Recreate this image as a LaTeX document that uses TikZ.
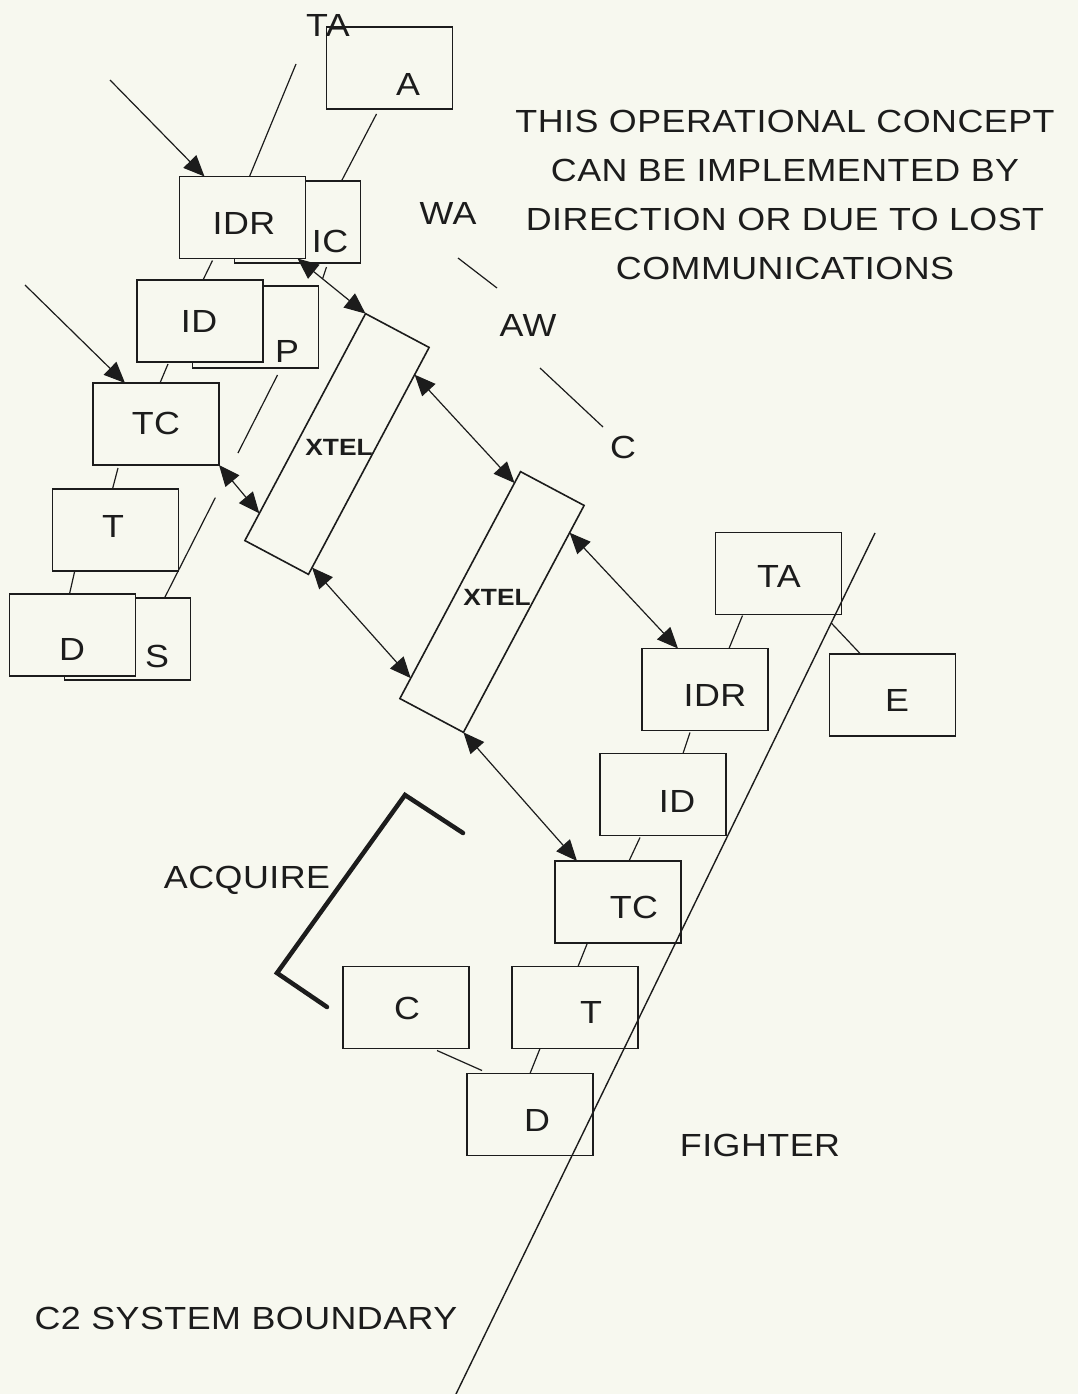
\documentclass[tikz,border=0pt]{standalone}
\usepackage{fontspec}
\newfontfamily\plotfont{Liberation Sans}[FakeStretch=1.12, LetterSpace=1.5]
\newfontfamily\xtelfont{Liberation Sans}[FakeStretch=1.12]
\usetikzlibrary{arrows.meta,calc}
\definecolor{paper}{RGB}{247,248,239}
\definecolor{ink}{RGB}{28,28,28}
\begin{document}
\begin{tikzpicture}[x=1pt,y=-1pt,
  box/.style={draw=ink, fill=paper, line width=1.8pt, minimum width=126pt, minimum height=82pt, inner sep=0pt, outer sep=0pt},
  lbl/.style={text=ink, font=\plotfont\fontsize{32}{38}\selectfont, inner sep=0pt, text depth=0pt},
  xlbl/.style={text=ink, font=\xtelfont\bfseries\fontsize{23.5}{28}\selectfont, inner sep=0pt, text depth=0pt},
  link/.style={draw=ink, line width=1.2pt},
  bound/.style={draw=ink, line width=1.4pt},
  sgl/.style={link, -{Triangle[length=21pt,width=18pt]}},
  dbl/.style={link, {Triangle[length=21pt,width=18pt]}-{Triangle[length=21pt,width=18pt]}},
  xtel/.style={draw=ink, fill=paper, line width=1.6pt, minimum width=257pt, minimum height=72pt, rotate=62, inner sep=0pt, outer sep=0pt},
  acq/.style={draw=ink, line width=4.5pt, line cap=round, line join=miter},
]
\fill[paper] (0,0) rectangle (1078,1394);
\useasboundingbox (0,0) rectangle (1078,1394);

% ---------- left group boxes ----------
\node[box] (boxa) at (389.5,68) {};
\node[box] (ic) at (297.5,222) {};
\node[box] (idr) at (242.5,217.5) {};
\node[box] (p) at (255.5,327) {};
\node[box] (id) at (200,321) {};
\node[box] (tc) at (156,424) {};
\node[box] (t) at (115.5,530) {};
\node[box] (s) at (127.5,639) {};
\node[box] (d) at (72.5,635) {};

% ---------- right group boxes ----------
\node[box] (ta2) at (778.5,573.5) {};
\node[box] (idr2) at (705,689.5) {};
\node[box] (e) at (892.5,695) {};
\node[box] (id2) at (663,794.5) {};
\node[box] (tc2) at (618,902) {};
\node[box] (t2) at (575,1007.5) {};
\node[box] (cbox) at (406,1007.5) {};
\node[box] (d2) at (530,1114.5) {};

% ---------- XTEL boxes ----------
\node[xtel] (x1) at (337,444) {};
\node[xtel] (x2) at (492,602) {};

% ---------- labels ----------
\node[lbl] (lta) at (328,25) {TA};
\node[lbl] (la) at (408,84) {A};
\node[lbl] (lidr) at (244,223) {IDR};
\node[lbl] (lic) at (330,241) {IC};
\node[lbl] (lid) at (199,321) {ID};
\node[lbl] (lp) at (287,351) {P};
\node[lbl] (ltc) at (156,423) {TC};
\node[lbl] (lt) at (113,526) {T};
\node[lbl] (ld) at (72,649) {D};
\node[lbl] (ls) at (157,656) {S};
\node[lbl] (lwa) at (448,213) {WA};
\node[lbl] (law) at (528,325) {AW};
\node[lbl] (lc1) at (623,447) {C};
\node[xlbl] (lx1) at (339,447) {XTEL};
\node[xlbl] (lx2) at (497,597) {XTEL};
\node[lbl] (lta2) at (779,576) {TA};
\node[lbl] (lidr2) at (715,695) {IDR};
\node[lbl] (le) at (897,700) {E};
\node[lbl] (lid2) at (677,801) {ID};
\node[lbl] (ltc2) at (634,907) {TC};
\node[lbl] (lt2) at (591,1012) {T};
\node[lbl] (lc2) at (407,1008) {C};
\node[lbl] (ld2) at (537,1120) {D};
\node[lbl] (lacq) at (247,877) {ACQUIRE};
\node[lbl] (lfig) at (760,1145) {FIGHTER};
\node[lbl] (lc2sb) at (246,1318) {C2 SYSTEM BOUNDARY};
\node[lbl, align=center, font=\plotfont\fontsize{32}{49}\selectfont] (note) at (785,195)
  {THIS OPERATIONAL CONCEPT\\CAN BE IMPLEMENTED BY\\DIRECTION OR DUE TO LOST\\COMMUNICATIONS};

% ---------- plain links (left) ----------
\coordinate (tatail) at (296,64);
\draw[link] (tatail) -- ($(idr.north west)+(70,0)$);
\draw[link] ($(boxa.south west)+(50,5)$) -- ($(ic.north west)+(107,0)$);
\draw[link] ($(idr.south west)+(33,2)$) -- ($(id.north west)+(66,0)$);
\draw[link] ($(ic.south west)+(92,4)$) -- ($(ic.south west)+(88,16)$);
\draw[link] ($(id.south west)+(31,2)$) -- ($(tc.north west)+(67,0)$);
\coordinate (ps1) at ($(p.south west)+(85,7)$);
\coordinate (ps2) at ($(s.north west)+(100,0)$);
\draw[link] (ps1) -- ($(ps1)!0.35!(ps2)$);
\draw[link] ($(ps1)!0.55!(ps2)$) -- (ps2);
\draw[link] ($(tc.south west)+(25,3)$) -- ($(t.north west)+(60,0)$);
\draw[link] ($(t.south west)+(22,1)$) -- ($(d.north west)+(60,0)$);

% ---------- plain links (right) ----------
\draw[link] ($(ta2.south west)+(27,1)$) -- ($(idr2.north west)+(87,0)$);
\draw[link] ($(idr2.south west)+(48,2)$) -- ($(id2.north west)+(83,0)$);
\draw[link] ($(id2.south west)+(40,2)$) -- ($(tc2.north west)+(74,0)$);
\draw[link] ($(tc2.south west)+(32,1)$) -- ($(t2.north west)+(66,0)$);
\draw[link] ($(t2.south west)+(28,0)$) -- ($(d2.north west)+(63,0)$);
\draw[link] ($(cbox.south west)+(94,2)$) -- ($(d2.north west)+(15,-3)$);

% ---------- boundary ----------
\coordinate (btop) at (875,533);
\coordinate (bbot) at (456,1394);
\draw[bound] (btop) -- (bbot);
\draw[link] ($(btop)!0.1045!(bbot)$) -- ($(e.north west)+(31,0)$);

% ---------- WA / AW / C strokes ----------
\coordinate (wa1) at (458,258);
\coordinate (wa2) at (497,288);
\draw[link] (wa1) -- (wa2);
\coordinate (aw1) at (540,368);
\coordinate (aw2) at (603,427);
\draw[link] (aw1) -- (aw2);

% ---------- incoming arrows ----------
\coordinate (in1) at (110,80);
\draw[sgl] (in1) -- ($(idr.north west)+(25,0)$);
\coordinate (in2) at (25,285);
\draw[sgl] (in2) -- ($(tc.north west)+(32,0)$);

% ---------- XTEL exchanges ----------
\draw[dbl] ($(idr.south east)+(-8,0)$) -- (x1.north east);
\draw[dbl] (tc.south east) -- ($(x1.north west)!0.12!(x1.north east)$);
\draw[dbl] ($(x1.south west)!0.88!(x1.south east)$) -- ($(x2.north west)!0.95!(x2.north east)$);
\draw[dbl] ($(x1.south west)!0.03!(x1.south east)$) -- ($(x2.north west)!0.09!(x2.north east)$);
\draw[dbl] ($(x2.south west)!0.88!(x2.south east)$) -- ($(idr2.north west)+(36,0)$);
\draw[dbl] (x2.south west) -- ($(tc2.north west)+(22,0)$);

% ---------- ACQUIRE bracket ----------
\draw[acq] (463,833) -- (405,795) -- (277,973) -- (327,1007);
\end{tikzpicture}
\end{document}
